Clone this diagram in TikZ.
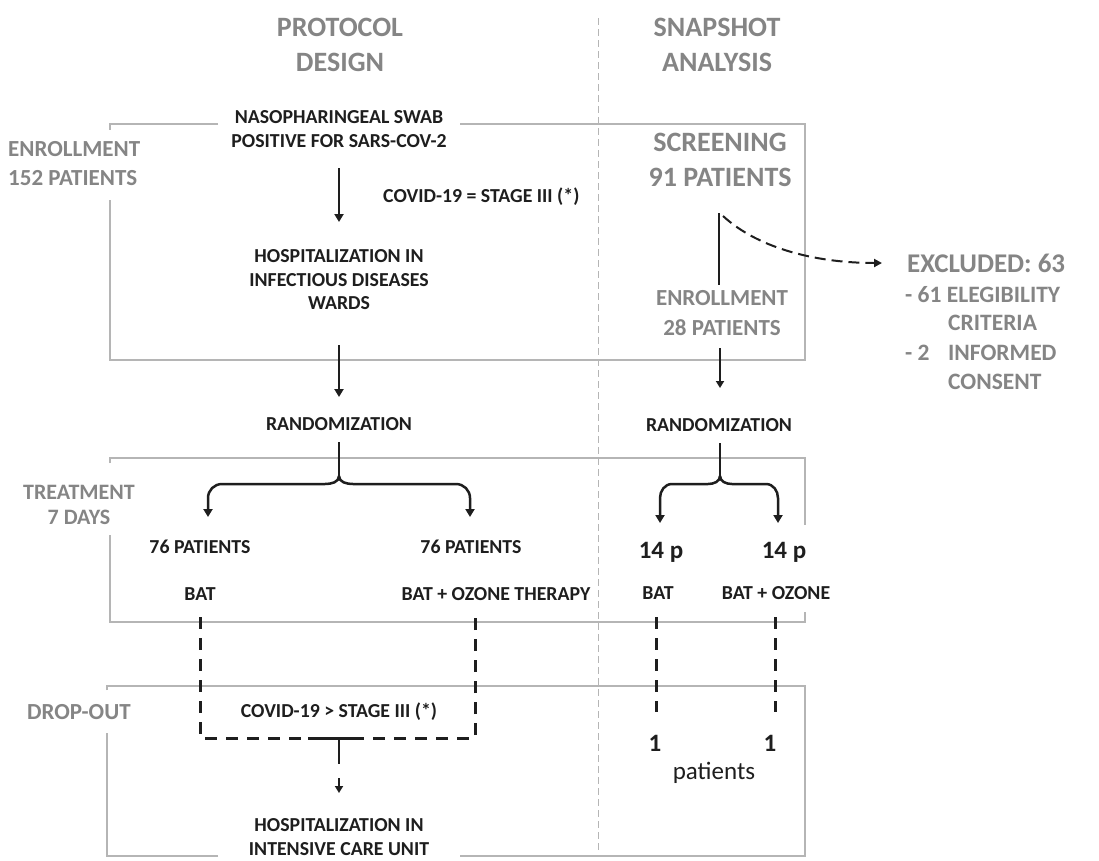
\documentclass[tikz,border=0pt]{standalone}
\usepackage{fontspec}
\setmainfont{Carlito}
\usetikzlibrary{arrows.meta}
\definecolor{gtxt}{HTML}{858585}
\definecolor{gline}{HTML}{B5B5B5}
\definecolor{ink}{HTML}{1E1E1E}
\tikzset{
 bt/.style={text=ink, font=\bfseries\fontsize{19.8}{23.5}\selectfont, align=center, inner sep=0pt},
 big/.style={text=ink, font=\bfseries\fontsize{25}{28}\selectfont, align=center, inner sep=0pt},
 gt/.style={text=gtxt, font=\bfseries\fontsize{23}{29}\selectfont, align=center, inner sep=0pt},
 gs/.style={text=gtxt, font=\bfseries\fontsize{23.5}{28}\selectfont, anchor=west, inner sep=0pt},
 head/.style={text=gtxt, font=\bfseries\fontsize{28}{35}\selectfont, align=center, inner sep=0pt},
 frame/.style={draw=gline, line width=2.5pt},
 arr/.style={draw=ink, line width=2.5pt, -{Triangle[width=9pt,length=8pt]}},
 thin arr/.style={draw=ink, line width=2pt, -{Triangle[width=8pt,length=7pt]}},
 dsh/.style={draw=ink, line width=3pt, dash pattern=on 12pt off 9pt},
}
\begin{document}
\begin{tikzpicture}[x=1pt,y=-1pt]
\useasboundingbox[fill=white] (0,0) rectangle (1099,860);
% divider
\draw[gline, line width=1pt, dash pattern=on 7pt off 4pt] (598,18) -- (598,850);
% frames
\draw[frame] (218,124) -- (110,124) -- (110,130);
\draw[frame] (110,200) -- (110,360) -- (805,360) -- (805,124) -- (460,124);
\draw[frame] (110,463) -- (110,458) -- (805,458) -- (805,525);
\draw[frame] (110,535) -- (110,622) -- (805,622) -- (805,612);
\draw[frame] (107,690) -- (107,686) -- (805,686) -- (805,856) -- (460,856);
\draw[frame] (218,856) -- (107,856) -- (107,733);
% headings
\node[head] (hpd) at (340,45) {PROTOCOL\\DESIGN};
\node[head] (hsa) at (717,45) {SNAPSHOT\\ANALYSIS};
% side labels
\node[gt, align=left, anchor=west] (enl) at (8,164) {ENROLLMENT\\152 PATIENTS};
\node[gt, font=\bfseries\fontsize{22}{25}\selectfont] (trt) at (79,505) {TREATMENT\\7 DAYS};
\node[gt, anchor=west] (dro) at (27,712) {DROP-OUT};
% left column
\node[bt] (swab) at (339,129) {NASOPHARINGEAL SWAB\\POSITIVE FOR SARS-COV-2};
\node[bt, anchor=west] (st3) at (383,197) {COVID-19 = STAGE III (*)};
\node[bt] (hosp) at (339,280) {HOSPITALIZATION IN\\INFECTIOUS DISEASES\\WARDS};
\node[bt] (rndl) at (339,424) {RANDOMIZATION};
\node[bt] (p76a) at (200,547) {76 PATIENTS};
\node[bt] (p76b) at (471,547) {76 PATIENTS};
\node[bt] (bata) at (200,594) {BAT};
\node[bt] (batb) at (496,594) {BAT + OZONE THERAPY};
\node[bt] (st4) at (339,712) {COVID-19 > STAGE III (*)};
\node[bt] (icu) at (339,837) {HOSPITALIZATION IN\\INTENSIVE CARE UNIT};
% right column
\node[head] (scr) at (720,160) {SCREENING\\91 PATIENTS};
\node[gt, font=\bfseries\fontsize{23}{30}\selectfont] (enr) at (722,313) {ENROLLMENT\\28 PATIENTS};
\node[head, font=\bfseries\fontsize{27}{30}\selectfont, anchor=west] (exc) at (907,263) {EXCLUDED: 63};
\node[gs] (ex1) at (905,295) {- 61 ELEGIBILITY};
\node[gs] (ex2) at (948,323) {CRITERIA};
\node[gs] (ex3) at (905,353) {- 2};
\node[gs] (ex4) at (948,353) {INFORMED};
\node[gs] (ex5) at (948,382) {CONSENT};
\node[bt] (rndr) at (719,425) {RANDOMIZATION};
\node[big] (p14a) at (661,552) {14 p};
\node[big] (p14b) at (784,552) {14 p};
\node[bt] (batc) at (658,593) {BAT};
\node[bt] (batd) at (776,593) {BAT + OZONE};
\node[big] (one1) at (655,743) {1};
\node[big] (one2) at (770,743) {1};
\node[big, font=\fontsize{25}{28}\selectfont] (pts) at (714,773) {patients};
% coordinates
\coordinate (a1s) at (339,168); \coordinate (a1e) at (339,222);
\coordinate (a2s) at (339,345); \coordinate (a2e) at (339,397);
\coordinate (b1s) at (339,442); \coordinate (b1m) at (339,476);
\coordinate (b1l) at (208,517); \coordinate (b1r) at (470,517);
\coordinate (d1) at (200,617); \coordinate (d2) at (475,617);
\coordinate (d1b) at (200,738); \coordinate (d2b) at (475,738);
\coordinate (tj) at (339,738); \coordinate (te) at (339,793);
\coordinate (v1) at (719,213); \coordinate (v2) at (719,285);
\coordinate (x1) at (723,216); \coordinate (x2) at (882,263);
\coordinate (r1s) at (720,348); \coordinate (r1e) at (720,388);
\coordinate (b2s) at (720,443); \coordinate (b2m) at (720,476);
\coordinate (b2l) at (660,523); \coordinate (b2r) at (778,523);
\coordinate (e1) at (656,617); \coordinate (e1b) at (656,712);
\coordinate (e2) at (775,617); \coordinate (e2b) at (775,712);
% connectors left
\draw[arr] (a1s) -- (a1e);
\draw[arr] (a2s) -- (a2e);
\draw[ink, line width=2.5pt] (b1s) -- (b1m);
\draw[arr] (b1m) to[out=-90,in=0] (325,484) -- (222,484) to[out=180,in=90] (b1l |- 0,498) -- (b1l);
\draw[arr] (b1m) to[out=-90,in=180] (353,484) -- (456,484) to[out=0,in=90] (b1r |- 0,498) -- (b1r);
\draw[dsh] (d1) -- (d1b) -- (d2b) -- (d2);
\draw[ink, line width=3pt] (308,738) -- (363,738);
\draw[ink, line width=2.5pt, dash pattern=on 26pt off 14pt, -{Triangle[width=8pt,length=7pt]}] (tj) -- (te);
% connectors right
\draw[ink, line width=2.5pt] (v1) -- (v2);
\draw[ink, line width=2pt, dash pattern=on 11pt off 6pt, -{Triangle[width=8pt,length=8pt]}] (x1) .. controls (760,250) and (820,263) .. (x2);
\draw[thin arr] (r1s) -- (r1e);
\draw[ink, line width=2.5pt] (b2s) -- (b2m);
\draw[arr] (b2m) to[out=-90,in=0] (708,484) -- (672,484) to[out=180,in=90] (b2l |- 0,498) -- (b2l);
\draw[arr] (b2m) to[out=-90,in=180] (732,484) -- (766,484) to[out=0,in=90] (b2r |- 0,498) -- (b2r);
\draw[dsh] (e1) -- (e1b);
\draw[dsh] (e2) -- (e2b);
\end{tikzpicture}
\end{document}
